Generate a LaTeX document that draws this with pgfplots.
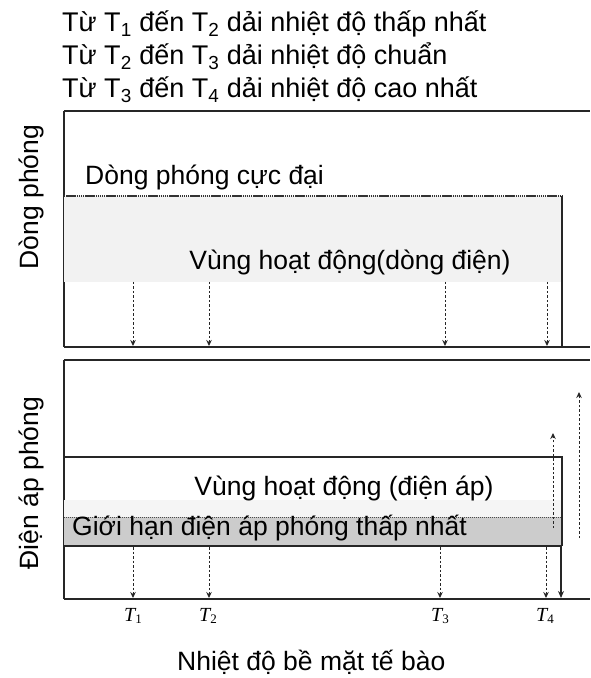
\documentclass[border=0pt]{standalone}
\usepackage{fontspec}
\setmainfont{Liberation Sans}
\newfontfamily\tfont{Liberation Serif}
\usepackage{pgfplots}
\pgfplotsset{compat=1.18}
\usetikzlibrary{arrows.meta}
\newcommand{\TT}[1]{\mbox{\fontsize{20}{20}\selectfont\tfont\itshape T\raisebox{-0.3ex}{\fontsize{13}{13}\selectfont\upshape #1}}}
\begin{document}
\fontsize{26.5}{30}\selectfont
\begin{tikzpicture}
\useasboundingbox (0pt,0pt) rectangle (590pt,678pt);
\begin{scope}[every node/.style={font=\fontsize{27}{30}\selectfont, anchor=base west, inner sep=0pt}]
\node at (62pt,646pt) {Từ T\textsubscript{1} đến T\textsubscript{2} dải nhiệt độ thấp nhất};
\node at (62pt,613pt) {Từ T\textsubscript{2} đến T\textsubscript{3} dải nhiệt độ chuẩn};
\node at (62pt,580pt) {Từ T\textsubscript{3} đến T\textsubscript{4} dải nhiệt độ cao nhất};
\end{scope}
\pgfplotsset{
  panel/.style={scale only axis, width=526pt, xmin=64, xmax=590,
    axis x line*=box, axis y line*=left, clip=false,
    axis line style={line width=1.3pt, black!85},
    ytick=\empty,
    every axis y label/.style={rotate=90, anchor=center, font=\fontsize{26.5}{26.5}\selectfont},
  },
  darr/.style={black!85, line width=1pt, dash pattern=on 2.5pt off 2pt, -{Stealth[length=6pt,width=5.5pt]}},
}
% top panel
\begin{axis}[panel, at={(64pt,331pt)}, anchor=south west, height=236pt,
  ymin=331, ymax=567, xtick=\empty,
  ylabel={Dòng phóng},
  ylabel style={at={(axis description cs:-0.061,0.635)}}]
\addplot[draw=none, fill=black!5] coordinates {(64,482) (562,482) (562,396) (64,396)} -- cycle;
\addplot[black!80, line width=1.2pt, dash pattern=on 1.5pt off 0.6pt] coordinates {(64,482) (562,482)};
\addplot[black!85, line width=1.1pt] coordinates {(562,482) (562,331)};
\addplot[darr] coordinates {(133,396) (133,332)};
\addplot[darr] coordinates {(209,396) (209,332)};
\addplot[darr] coordinates {(445,396) (445,332)};
\addplot[darr] coordinates {(547,396) (547,332)};
\node[anchor=base west, inner sep=0pt] at (axis cs:85,493) {Dòng phóng cực đại};
\node[anchor=base, inner sep=0pt] at (axis cs:350,408) {Vùng hoạt động(dòng điện)};
\end{axis}
% bottom panel
\begin{axis}[panel, at={(64pt,79pt)}, anchor=south west, height=239pt,
  ymin=79, ymax=318,
  xtick={133,208,440,545}, xticklabels={\TT{1},\TT{2},\TT{3},\TT{4}},
  major tick length=0pt,
  xticklabel style={anchor=center, yshift=-17pt},
  ylabel={Điện áp phóng},
  ylabel style={at={(axis description cs:-0.061,0.485)}},
  xlabel={Nhiệt độ bề mặt tế bào},
  xlabel style={at={(axis description cs:0.47,-0.264)}, anchor=center}]
\addplot[draw=none, fill=black!4] coordinates {(64,178) (562,178) (562,161) (64,161)} -- cycle;
\addplot[draw=none, fill=black!20] coordinates {(64,161) (562,161) (562,132) (64,132)} -- cycle;
\addplot[black!70, line width=1pt, dash pattern=on 1pt off 1pt] coordinates {(64,161) (562,161)};
\addplot[black!85, line width=1.1pt] coordinates {(64,221) (562,221) (562,132)};
\addplot[black!85, line width=1.1pt] coordinates {(64,132) (562,132)};
\addplot[black!85, line width=1.1pt, -{Stealth[length=7pt,width=6pt]}] coordinates {(561,132) (561,80)};
\addplot[darr] coordinates {(133,131) (133,80)};
\addplot[darr] coordinates {(209,131) (209,80)};
\addplot[darr] coordinates {(440,131) (440,80)};
\addplot[darr] coordinates {(546,131) (546,80)};
\addplot[darr] coordinates {(553,150) (553,245)};
\addplot[darr] coordinates {(579,140) (579,286)};
\node[anchor=base, inner sep=0pt] at (axis cs:344,183) {Vùng hoạt động (điện áp)};
\node[anchor=base west, inner sep=0pt] at (axis cs:72,143) {Giới hạn điện áp phóng thấp nhất};
\end{axis}
\end{tikzpicture}
\end{document}
